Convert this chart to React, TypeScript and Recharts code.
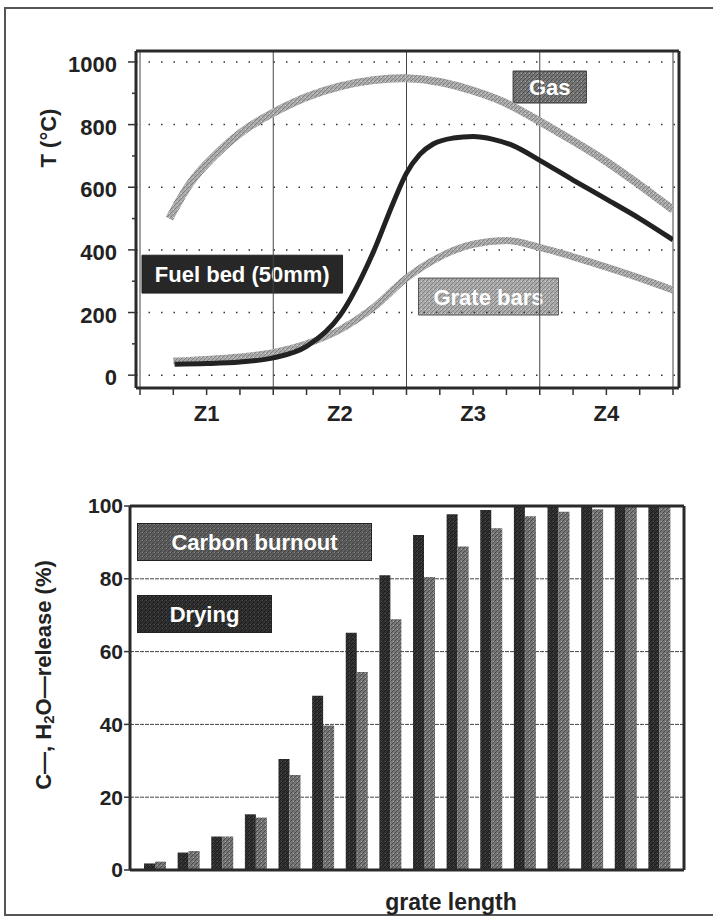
import React from "react";
import {
  LineChart,
  Line,
  BarChart,
  Bar,
  XAxis,
  YAxis,
  CartesianGrid,
  Legend,
  ReferenceLine,
  ReferenceArea,
} from "recharts";

const FONT = '"Liberation Sans", Arial, Helvetica, sans-serif';

// position along the grate (one unit per zone) and temperature in °C, per curve
const gasPos = [0.22, 0.35, 0.5, 0.75, 1, 1.25, 1.5, 1.75, 2, 2.25, 2.5, 2.75, 3, 3.25, 3.5, 3.75, 4];
const gasTemp = [500, 596, 675, 772, 838, 888, 922, 942, 948, 936, 908, 868, 810, 748, 682, 607, 528];

const fuelBedPos = [0.26, 0.5, 0.75, 1, 1.25, 1.5, 1.75, 1.9, 2, 2.1, 2.2, 2.35, 2.5, 2.65, 2.8, 3, 3.25, 3.5, 3.75, 4];
const fuelBedTemp = [35, 37, 42, 55, 92, 190, 392, 550, 645, 705, 738, 757, 762, 753, 733, 686, 623, 562, 500, 432];

const grateBarPos = [0.25, 0.5, 0.75, 1, 1.25, 1.5, 1.75, 2, 2.25, 2.5, 2.75, 3, 3.25, 3.5, 3.75, 4];
const grateBarTemp = [45, 50, 58, 72, 100, 145, 215, 310, 378, 418, 430, 408, 378, 345, 310, 272];

const zoneNames = ["Z1", "Z2", "Z3", "Z4"];
const zoneCentres = [0.5, 1.5, 2.5, 3.5];
const zoneEdges = [0, 1, 2, 3, 4];
const posTicks = [0, 0.25, 0.5, 0.75, 1, 1.25, 1.5, 1.75, 2, 2.25, 2.5, 2.75, 3, 3.25, 3.5, 3.75, 4];
const tempTicks = [0, 100, 200, 300, 400, 500, 600, 700, 800, 900, 1000];
const tempGrid = [0, 200, 400, 600, 800, 1000];

// release per grate bar (%)
const barSlots = [1, 2, 3, 4, 5, 6, 7, 8, 9, 10, 11, 12, 13, 14, 15, 16];
const dryingRelease = [1.8, 4.8, 9.2, 15.3, 30.5, 47.9, 65.2, 81.0, 92.0, 97.7, 98.9, 99.8, 99.8, 99.8, 100, 100];
const carbonRelease = [2.3, 5.2, 9.2, 14.4, 26.1, 39.7, 54.4, 68.9, 80.5, 88.9, 93.9, 97.2, 98.4, 99.1, 99.8, 99.7];
const releaseTicks = [0, 20, 40, 60, 80, 100];

const toRows = (pos: number[], temp: number[]) => pos.map((x, i) => ({ x, t: temp[i] }));
const gasRows = toRows(gasPos, gasTemp);
const fuelBedRows = toRows(fuelBedPos, fuelBedTemp);
const grateBarRows = toRows(grateBarPos, grateBarTemp);

const releaseRows = barSlots.map((slot, i) => ({
  slot,
  drying: dryingRelease[i],
  carbon: carbonRelease[i],
}));

const frameLine = { stroke: "#2a2a2a", strokeWidth: 3 };

// grainy halftone fills
const Grain = ({ id, base, line, dot }: { id: string; base: string; line: string; dot: string }) => (
  <pattern id={id} width={4} height={4} patternUnits="userSpaceOnUse">
    <rect width={4} height={4} fill={base} />
    <path d="M0,4 L4,0 M-1,1 L1,-1 M3,5 L5,3" stroke={line} strokeWidth={1} />
    <rect x={1} y={1} width={1} height={1} fill={dot} />
  </pattern>
);

const BoxText = ({ viewBox, text }: any) => {
  const { x, y, width, height } = viewBox;
  return (
    <text
      x={x + width / 2}
      y={y + height / 2 + 8}
      textAnchor="middle"
      fill="#fff"
      fontSize={22}
      fontWeight={700}
      fontFamily={FONT}
    >
      {text}
    </text>
  );
};

const TempTick = ({ x, y, payload }: any) => {
  const v = payload.value as number;
  const major = tempGrid.includes(v);
  return (
    <g>
      <line x1={x - (major ? 8 : 4)} x2={x} y1={y} y2={y} stroke="#333" strokeWidth={1.5} />
      {major && (
        <text x={x - 19} y={y + 10} textAnchor="end" fontSize={22} fontWeight={700} fill="#222" fontFamily={FONT}>
          {v}
        </text>
      )}
    </g>
  );
};

const ZoneTick = ({ x, y, payload }: any) => {
  const idx = zoneCentres.indexOf(payload.value);
  return (
    <g>
      <line x1={x} x2={x} y1={y} y2={y + 7} stroke="#333" strokeWidth={1.5} />
      {idx >= 0 && (
        <text x={x} y={y + 33} textAnchor="middle" fontSize={22} fontWeight={700} fill="#222" fontFamily={FONT}>
          {zoneNames[idx]}
        </text>
      )}
    </g>
  );
};

const TempTitle = ({ viewBox }: any) => {
  const cx = 48;
  const cy = viewBox.y + 87;
  return (
    <text
      x={cx}
      y={cy}
      transform={`rotate(-90, ${cx}, ${cy})`}
      textAnchor="middle"
      dominantBaseline="central"
      fontSize={22}
      fontWeight={700}
      fill="#222"
      fontFamily={FONT}
    >
      T (°C)
    </text>
  );
};

const ReleaseTitle = ({ viewBox }: any) => {
  const cx = 43;
  const cy = viewBox.y + viewBox.height / 2 - 13;
  return (
    <text
      x={cx}
      y={cy}
      transform={`rotate(-90, ${cx}, ${cy})`}
      textAnchor="middle"
      dominantBaseline="central"
      fontSize={22}
      fontWeight={700}
      fill="#222"
      fontFamily={FONT}
    >
      C—, H
      <tspan dy={5} fontSize={15}>2</tspan>
      <tspan dy={-5}>O—release (%)</tspan>
    </text>
  );
};

const LengthTitle = ({ viewBox }: any) => (
  <text
    x={viewBox.x + viewBox.width / 2 + 44}
    y={viewBox.y + 40}
    textAnchor="middle"
    fontSize={23}
    fontWeight={700}
    fill="#222"
    fontFamily={FONT}
  >
    grate length
  </text>
);

// legend boxes: carbon burnout on top, drying below
const legendBoxes: Record<string, { width: number; gap: number; fill: string }> = {
  carbon: { width: 235, gap: 0, fill: "url(#rBox)" },
  drying: { width: 135, gap: 34, fill: "url(#rDark)" },
};

const ReleaseLegend = ({ payload }: any) => {
  const items = [...(payload || [])].sort((a: any) => (a.dataKey === "carbon" ? -1 : 1));
  return (
    <div>
      {items.map((item: any) => {
        const box = legendBoxes[item.dataKey];
        return (
          <svg key={item.dataKey} width={box.width} height={38} style={{ display: "block", marginTop: box.gap }}>
            <rect x={0.5} y={0.5} width={box.width - 1} height={37} fill={box.fill} stroke="#222" />
            <text
              x={box.width / 2}
              y={27}
              textAnchor="middle"
              fill="#fff"
              fontSize={22}
              fontWeight={700}
              fontFamily={FONT}
            >
              {item.value}
            </text>
          </svg>
        );
      })}
    </div>
  );
};

const TemperatureChart = () => (
  <LineChart width={713} height={460} margin={{ top: 50, right: 33, bottom: 0, left: 0 }}>
    <defs>
      <Grain id="tLight" base="#ababab" line="#808080" dot="#d6d6d6" />
      <Grain id="tMid" base="#767676" line="#4e4e4e" dot="#a8a8a8" />
    </defs>
    <XAxis
      dataKey="x"
      type="number"
      domain={[0, 4]}
      allowDataOverflow
      ticks={posTicks}
      interval={0}
      padding={{ left: 4, right: 6 }}
      height={72}
      tickSize={0}
      tickMargin={0}
      tickLine={false}
      tick={<ZoneTick />}
      axisLine={frameLine}
    />
    <XAxis
      xAxisId="frame"
      orientation="top"
      type="number"
      domain={[0, 4]}
      allowDataOverflow
      height={1}
      tick={false}
      tickLine={false}
      axisLine={frameLine}
    />
    <YAxis
      type="number"
      domain={[-41, 1035]}
      allowDataOverflow
      ticks={tempTicks}
      interval={0}
      width={136}
      tickSize={0}
      tickMargin={0}
      tickLine={false}
      tick={<TempTick />}
      axisLine={frameLine}
      label={<TempTitle />}
    />
    <YAxis yAxisId="frame" orientation="right" width={1} tick={false} tickLine={false} axisLine={frameLine} />
    {tempGrid.map((v) => (
      <ReferenceLine key={`g${v}`} y={v} stroke="#333" strokeWidth={1.5} strokeDasharray="1.5 11" />
    ))}
    {zoneEdges.map((v) => (
      <ReferenceLine key={`z${v}`} x={v} stroke="#444" strokeWidth={1} />
    ))}
    <Line data={gasRows} dataKey="t" type="natural" stroke="url(#tLight)" strokeWidth={8} dot={false} isAnimationActive={false} />
    <Line data={grateBarRows} dataKey="t" type="monotone" stroke="url(#tLight)" strokeWidth={7} dot={false} isAnimationActive={false} />
    <Line data={fuelBedRows} dataKey="t" type="monotone" stroke="#222" strokeWidth={5} dot={false} isAnimationActive={false} />
    <ReferenceArea x1={2.8} x2={3.35} y1={869} y2={971} fill="url(#tMid)" fillOpacity={1} stroke="#333" label={<BoxText text="Gas" />} />
    <ReferenceArea x1={0.015} x2={1.52} y1={262} y2={383} fill="#272727" fillOpacity={1} stroke="#222" label={<BoxText text="Fuel bed (50mm)" />} />
    <ReferenceArea x1={2.09} x2={3.14} y1={192} y2={310} fill="url(#tLight)" fillOpacity={1} stroke="#555" label={<BoxText text="Grate bars" />} />
  </LineChart>
);

const ReleaseChart = () => (
  <BarChart
    width={713}
    height={457}
    data={releaseRows}
    margin={{ top: 45, right: 28, bottom: 0, left: 0 }}
    barGap={0}
    barSize={11}
  >
    <defs>
      <Grain id="rDark" base="#303030" line="#1c1c1c" dot="#525252" />
      <Grain id="rMid" base="#767676" line="#4c4c4c" dot="#b0b0b0" />
      <Grain id="rBox" base="#5e5e5e" line="#404040" dot="#8a8a8a" />
    </defs>
    <CartesianGrid vertical={false} stroke="#444" strokeDasharray="4 1" />
    <XAxis
      dataKey="slot"
      tick={false}
      tickLine={false}
      axisLine={frameLine}
      height={47}
      padding={{ left: 8, right: 8 }}
      label={<LengthTitle />}
    />
    <XAxis xAxisId="frame" orientation="top" dataKey="slot" height={1} tick={false} tickLine={false} axisLine={frameLine} />
    <YAxis
      domain={[0, 100]}
      ticks={releaseTicks}
      interval={0}
      width={130}
      tickSize={6}
      tickMargin={1}
      tickLine={{ stroke: "#333", strokeWidth: 1.5 }}
      axisLine={frameLine}
      tick={{ fontSize: 21, fontWeight: 700, fill: "#222", fontFamily: FONT }}
      label={<ReleaseTitle />}
    />
    <YAxis yAxisId="frame" orientation="right" width={1} tick={false} tickLine={false} axisLine={frameLine} />
    <Legend
      layout="vertical"
      align="center"
      verticalAlign="middle"
      content={<ReleaseLegend />}
      wrapperStyle={{ left: 137, top: 63, width: 240, height: 115 }}
    />
    <Bar dataKey="drying" name="Drying" fill="url(#rDark)" isAnimationActive={false} />
    <Bar dataKey="carbon" name="Carbon burnout" fill="url(#rMid)" isAnimationActive={false} />
  </BarChart>
);

export default function App() {
  return (
    <div
      style={{
        position: "absolute",
        left: 0,
        top: 0,
        width: 713,
        height: 917,
        background: "#fff",
        overflow: "hidden",
        fontFamily: FONT,
      }}
    >
      <div
        style={{
          position: "absolute",
          left: 4,
          top: 7,
          width: 760,
          height: 905,
          borderLeft: "2px solid #555",
          borderTop: "2px solid #555",
          borderBottom: "2px solid #555",
        }}
      />
      <div style={{ position: "absolute", left: 0, top: 0 }}>
        <TemperatureChart />
      </div>
      <div style={{ position: "absolute", left: 0, top: 460 }}>
        <ReleaseChart />
      </div>
    </div>
  );
}
